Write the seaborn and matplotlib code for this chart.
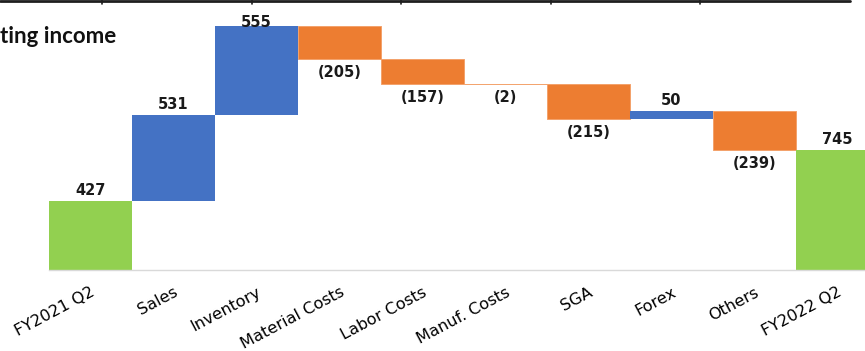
import matplotlib
matplotlib.use("Agg")
import matplotlib.pyplot as plt
from matplotlib.lines import Line2D
import seaborn as sns
import numpy as np
import pandas as pd

# ---- data ----
categories = ["FY2021 Q2", "Sales", "Inventory", "Material Costs", "Labor Costs",
              "Manuf. Costs", "SGA", "Forex", "Others", "FY2022 Q2"]
changes = [427, 531, 555, -205, -157, -2, -215, 50, -239, 745]
kinds = ["total", "delta", "delta", "delta", "delta",
         "delta", "delta", "delta", "delta", "total"]
title_text = "ting income"

# ---- style ----
GREEN, BLUE, ORANGE = "#92D050", "#4472C4", "#ED7D31"
sns.set_theme(style="white")
plt.rcParams["font.family"] = ["DejaVu Sans"]

W, H, DPI = 865, 351, 100
fig = plt.figure(figsize=(W / DPI, H / DPI), dpi=DPI)
fig.patch.set_facecolor("white")
ax = fig.add_axes([49 / W, (H - 270) / H, 830 / W, 270 / H])

# ---- waterfall geometry from data ----
bottoms, tops, colors, labels = [], [], [], []
run = 0
for c, k in zip(changes, kinds):
    if k == "total":
        b, t = 0, c
        run = c
        colors.append(GREEN)
        labels.append((f"{c}", "above"))
    else:
        new = run + c
        b, t = min(run, new), max(run, new)
        run = new
        if c >= 0:
            colors.append(BLUE)
            labels.append((f"{c}", "above"))
        else:
            colors.append(ORANGE)
            labels.append((f"({-c})", "below"))
    bottoms.append(b)
    tops.append(t)

df = pd.DataFrame({"category": categories,
                   "height": np.array(tops) - np.array(bottoms),
                   "bottom": bottoms})

sns.barplot(data=df, x="category", y="height", order=categories,
            bottom=df["bottom"].to_numpy(), width=1.0, errorbar=None,
            ax=ax, linewidth=0, color=GREEN, saturation=1)
for p, col in zip(ax.patches, colors):
    p.set_facecolor(col)
    if col == ORANGE:
        p.set_edgecolor("#F3A26B")
        p.set_linewidth(0.7)
    else:
        p.set_edgecolor(col)
        p.set_linewidth(0)

ax.set_xlim(-0.5, len(categories) - 0.5)
ax.set_ylim(0, 1671)
ax.set_yticks([])
ax.set_xlabel("")
ax.set_ylabel("")
for s in ["left", "top", "right"]:
    ax.spines[s].set_visible(False)
ax.spines["bottom"].set_color("#D9D9D9")
ax.spines["bottom"].set_linewidth(1.0)

ax.set_xticks(range(len(categories)))
ax.set_xticklabels(categories, rotation=28, ha="right",
                   rotation_mode="anchor", fontsize=11.6, color="#000000")
ax.tick_params(axis="x", length=0, pad=10.5)

# ---- value labels ----
FS = 10.5
digit_h = 0.73 * FS * DPI / 72
ceiling = H - 16
inv = ax.transData.inverted()
for i, ((txt, pos), b, t) in enumerate(zip(labels, bottoms, tops)):
    if pos == "above":
        xd, yd = ax.transData.transform((i, t))
        base = yd + 6
        if base + digit_h > ceiling:
            base = ceiling - digit_h
        y = inv.transform((xd, base))[1]
        ax.text(i, y, txt, ha="center", va="baseline", fontsize=FS,
                fontweight="bold", color="#1a1a1a")
    else:
        xd, yd = ax.transData.transform((i, b))
        y = inv.transform((xd, yd - 6))[1]
        ax.text(i, y, txt, ha="center", va="top", fontsize=FS,
                fontweight="bold", color="#1a1a1a")

# ---- title fragment ----
fig.text(0.0, (H - 43) / H, title_text, ha="left", va="baseline",
         fontsize=16, fontweight="bold", family=["Lato", "DejaVu Sans"],
         color="#111111")

# ---- top table border ----
fig.add_artist(Line2D([0, 850 / W], [1 - 1.2 / H, 1 - 1.2 / H],
                      color="#1e1e1e", lw=2.0))
for xp in [102, 252, 401, 551, 700]:
    fig.add_artist(Line2D([xp / W, xp / W], [1, 1 - 3.5 / H],
                          color="#1e1e1e", lw=1.2))

fig.savefig("out.png", dpi=DPI, facecolor="white")
